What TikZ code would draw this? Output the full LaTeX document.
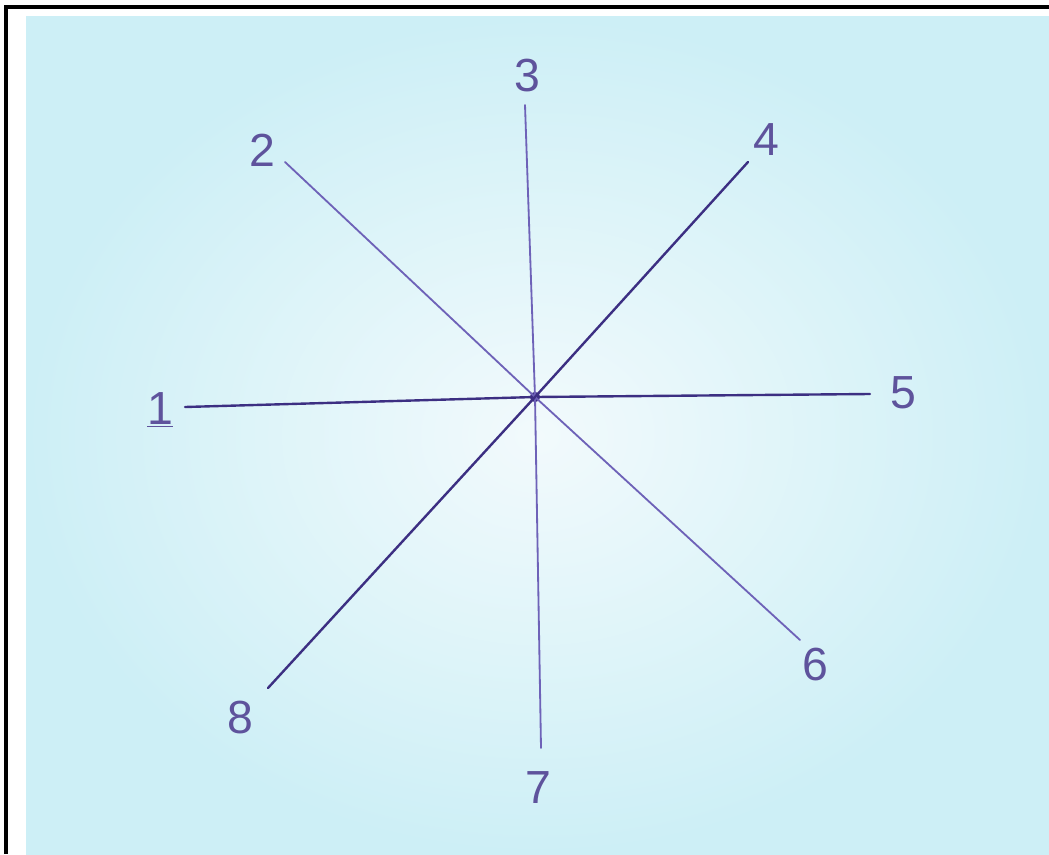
\documentclass[tikz,border=0pt]{standalone}
\usepackage{fontspec}
\setmainfont{Liberation Sans}
\usetikzlibrary{positioning}
\definecolor{paper}{HTML}{CDEFF6}
\definecolor{paperlight}{HTML}{F2FAFC}
\definecolor{ink}{HTML}{6E62B8}
\definecolor{inkdark}{HTML}{3C2F82}

\begin{document}
\begin{tikzpicture}[
    x=0.025cm, y=-0.025cm,
    ray/.style={draw=ink, line width=1.3pt, line cap=round},
    raydark/.style={draw=inkdark, line width=1.7pt, line cap=round},
    num/.style={text=ink!85!black, font=\fontsize{33}{33}\selectfont, inner sep=0pt},
]
\useasboundingbox (0,0) rectangle (1049,854);

% ===== PAPER =====
\shade[inner color=paperlight, outer color=paper] (26,17) rectangle (1049,854);
\draw[black, line width=2.2pt] (6,854) -- (6,7) -- (1049,7);

% ===== CENTRE AND ENDS =====
\node[circle, fill=inkdark, minimum size=0.26cm, inner sep=0pt] (c) at (535,397) {};

\coordinate (e1) at (185,407);
\coordinate (e2) at (285,162);
\coordinate (e3) at (525,105);
\coordinate (e4) at (748,162);
\coordinate (e5) at (870,394);
\coordinate (e6) at (800,640);
\coordinate (e7) at (541,748);
\coordinate (e8) at (268,688);

\draw[raydark] (c.center) -- (e1);
\draw[ray]     (c.center) -- (e2);
\draw[ray]     (c.center) -- (e3);
\draw[raydark] (c.center) -- (e4);
\draw[raydark] (c.center) -- (e5);
\draw[ray]     (c.center) -- (e6);
\draw[ray]     (c.center) -- (e7);
\draw[raydark] (c.center) -- (e8);

% ===== LABELS =====
\node[num] (n1) at (160,410) {\underline{1}};
\node[num] (n2) at (262,150) {2};
\node[num] (n3) at (527,76)  {3};
\node[num] (n4) at (766,140) {4};
\node[num] (n5) at (903,393) {5};
\node[num] (n6) at (815,665) {6};
\node[num] (n7) at (538,788) {7};
\node[num] (n8) at (240,718) {8};

\end{tikzpicture}
\end{document}
